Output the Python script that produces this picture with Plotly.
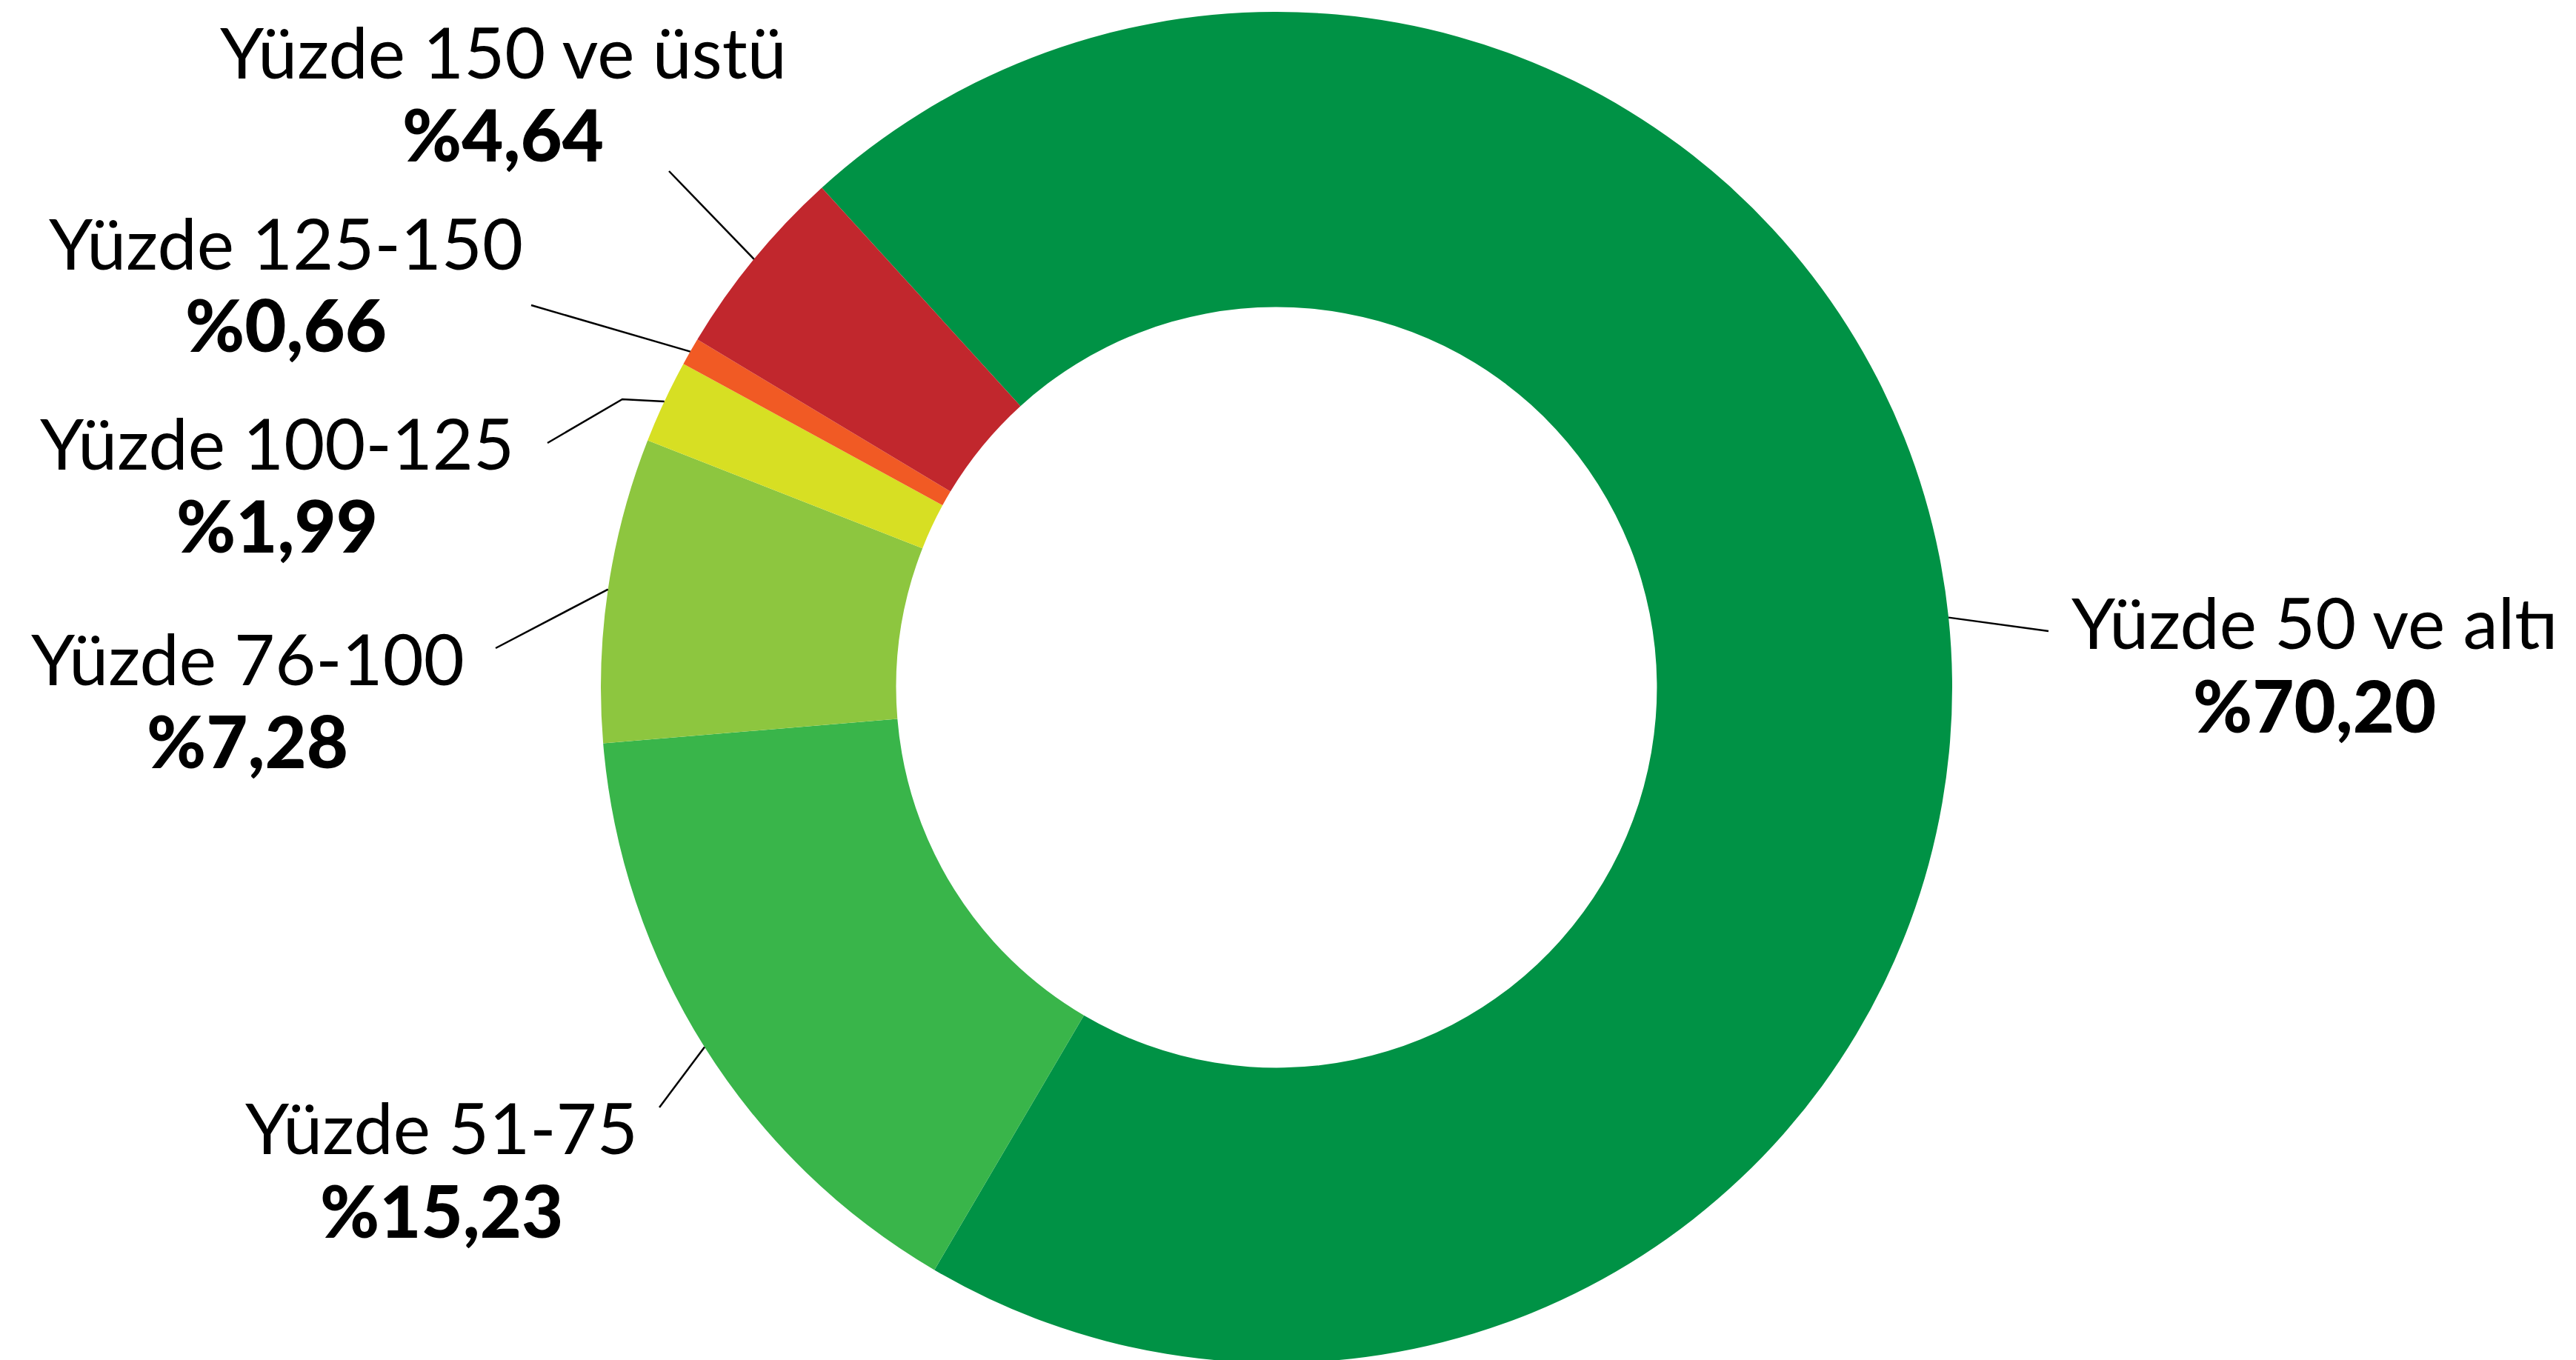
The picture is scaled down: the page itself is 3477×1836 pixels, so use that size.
import math
import plotly.graph_objects as go

# ---- data ----
categories = ["Yüzde 50 ve altı", "Yüzde 51-75", "Yüzde 76-100",
              "Yüzde 100-125", "Yüzde 125-150", "Yüzde 150 ve üstü"]
values = [70.20, 15.23, 7.28, 1.99, 0.66, 4.64]
colors = ["#009245", "#39B54A", "#8DC63F", "#D7DF23", "#F15A24", "#C1272D"]

# ---- layout constants (pixels) ----
W, H = 3477, 1836
CX, CY, R = 1715, 920, 912
HOLE = 0.563
ROTATION = -42.3
TEXT_DY = -7

# label text centres (x, regular-line y, bold-line y) and leader outer points
label_pos = [
    (3116, 838, 950, [(2757, 844)]),
    (588, 1520, 1632, [(882, 1487)]),
    (326, 887, 998, [(661, 867)]),
    (366, 596, 707, [(731, 590), (832, 531)]),
    (378, 326, 437, [(709, 404)]),
    (671, 68, 179, [(895, 223)]),
]

FONT = "Lato"
REG_SIZE = 95
BOLD_SIZE = 97


def px(x):
    return x / W


def py(y):
    return 1 - y / H


fig = go.Figure(go.Pie(
    labels=categories,
    values=values,
    marker=dict(colors=colors, line=dict(width=0)),
    hole=HOLE,
    sort=False,
    direction="clockwise",
    rotation=ROTATION,
    textinfo="none",
    hoverinfo="label+percent",
    showlegend=False,
    domain=dict(x=[(CX - R) / W, (CX + R) / W], y=[(H - CY - R) / H, (H - CY + R) / H]),
))

total = sum(values)
annotations = []
shapes = []
cum = 0.0
for cat, v, (tx, ry, by, leader) in zip(categories, values, label_pos):
    mid = ROTATION + (cum + v / 2) / total * 360
    cum += v
    a = math.radians(mid)
    sx, sy = CX + R * math.sin(a), CY - R * math.cos(a)
    pts = [(sx, sy)] + list(reversed(leader))
    path = "M " + " L ".join(f"{px(x)},{py(y)}" for x, y in pts)
    shapes.append(dict(type="path", xref="paper", yref="paper", path=path,
                       line=dict(color="#000000", width=2.5)))
    annotations.append(dict(x=px(tx), y=py(ry + TEXT_DY), xref="paper", yref="paper",
                            text=cat, showarrow=False, xanchor="center", yanchor="middle",
                            font=dict(family=FONT, size=REG_SIZE, color="#000000")))
    annotations.append(dict(x=px(tx), y=py(by + TEXT_DY), xref="paper", yref="paper",
                            text="%" + f"{v:.2f}".replace(".", ","), showarrow=False,
                            xanchor="center", yanchor="middle",
                            font=dict(family=FONT, size=BOLD_SIZE, color="#000000", weight=900)))

fig.update_layout(
    width=W, height=H,
    margin=dict(l=0, r=0, t=0, b=0),
    paper_bgcolor="white", plot_bgcolor="white",
    annotations=annotations,
    shapes=shapes,
)

fig.write_html("out.html")
